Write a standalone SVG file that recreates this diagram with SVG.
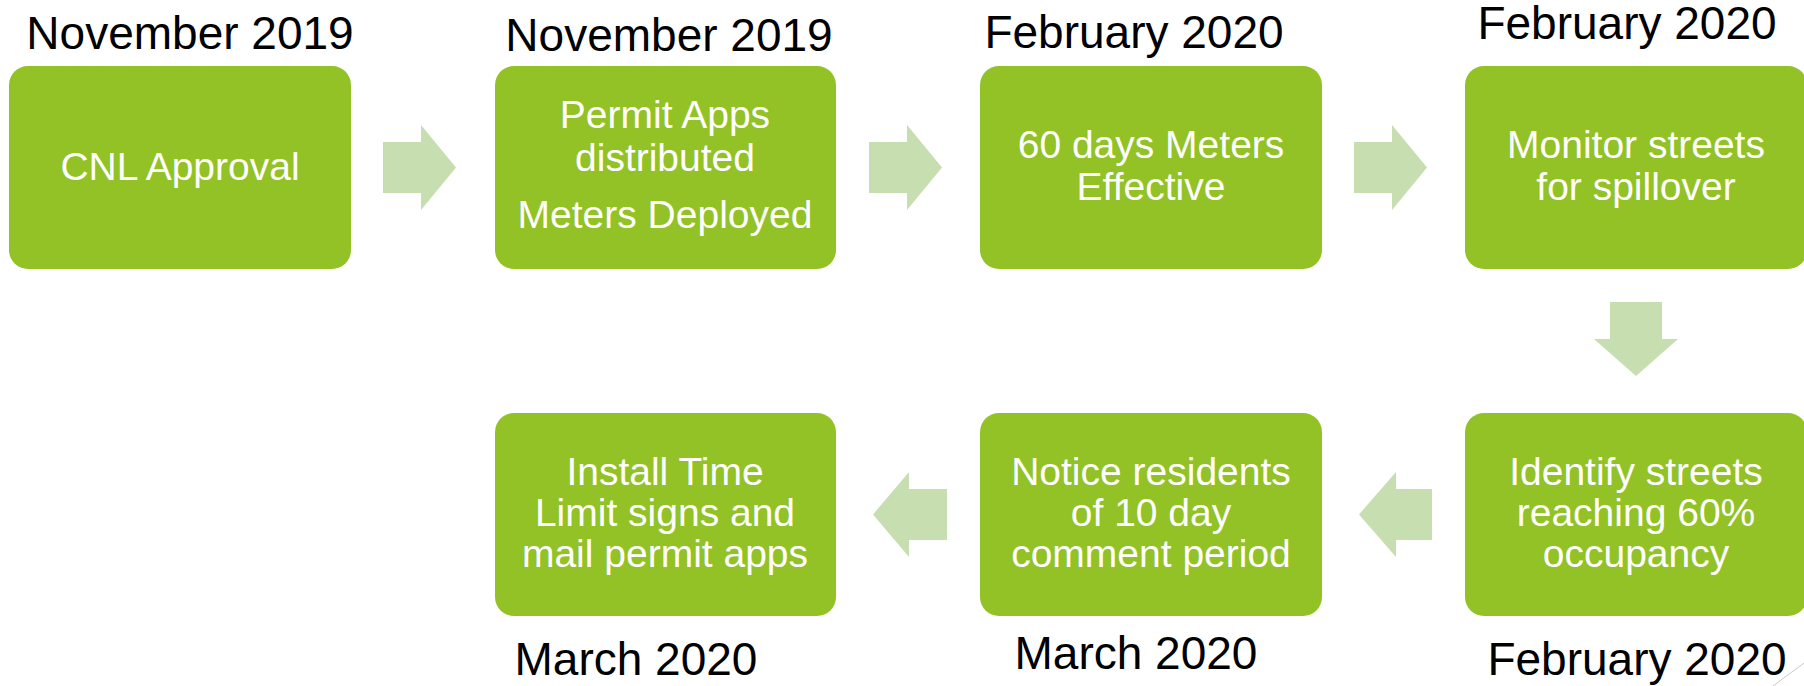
<svg xmlns="http://www.w3.org/2000/svg" width="1804" height="686" viewBox="0 0 1804 686">
<style>
.box{fill:#92C225;}
.arrow{fill:#C6DEB0;}
.lbl{font-family:"Liberation Sans",Arial,sans-serif;font-size:46px;fill:#000;text-anchor:middle;}
.txt{font-family:"Liberation Sans",Arial,sans-serif;font-size:39px;fill:#fff;text-anchor:middle;}
</style>
<rect width="1804" height="686" fill="#fff"/>
<g id="connectors">
<polygon class="arrow" points="383,142 421,142 421,125 456,167.5 421,210 421,193 383,193"/>
<polygon class="arrow" points="869,142 907,142 907,125 942,167.5 907,210 907,193 869,193"/>
<polygon class="arrow" points="1354,142 1392,142 1392,125 1427,167.5 1392,210 1392,193 1354,193"/>
<polygon class="arrow" points="1610,302 1662,302 1662,339 1678,339 1636,376 1594,339 1610,339"/>
<polygon class="arrow" points="1432,489 1396,489 1396,472 1359,514.5 1396,557 1396,540 1432,540"/>
<polygon class="arrow" points="947,489 909,489 909,472 873,514.5 909,557 909,540 947,540"/>
</g>
<g id="node1">
<text class="lbl" x="190" y="49">November 2019</text>
<rect class="box" x="9" y="66" width="342" height="203" rx="19"/>
<text class="txt" x="180" y="180">CNL Approval</text>
</g>
<g id="node2">
<text class="lbl" x="669" y="51">November 2019</text>
<rect class="box" x="495" y="66" width="341" height="203" rx="19"/>
<text class="txt" x="665" y="128">Permit Apps</text>
<text class="txt" x="665" y="171">distributed</text>
<text class="txt" x="665" y="228">Meters Deployed</text>
</g>
<g id="node3">
<text class="lbl" x="1134" y="48">February 2020</text>
<rect class="box" x="980" y="66" width="342" height="203" rx="19"/>
<text class="txt" x="1151" y="158">60 days Meters</text>
<text class="txt" x="1151" y="200">Effective</text>
</g>
<g id="node4">
<text class="lbl" x="1627" y="39">February 2020</text>
<rect class="box" x="1465" y="66" width="342" height="203" rx="19"/>
<text class="txt" x="1636" y="158">Monitor streets</text>
<text class="txt" x="1636" y="200">for spillover</text>
</g>
<g id="node5">
<rect class="box" x="1465" y="413" width="342" height="203" rx="19"/>
<text class="txt" x="1636" y="485">Identify streets</text>
<text class="txt" x="1636" y="526">reaching 60%</text>
<text class="txt" x="1636" y="567">occupancy</text>
<text class="lbl" x="1637" y="675">February 2020</text>
</g>
<g id="node6">
<rect class="box" x="980" y="413" width="342" height="203" rx="19"/>
<text class="txt" x="1151" y="485">Notice residents</text>
<text class="txt" x="1151" y="526">of 10 day</text>
<text class="txt" x="1151" y="567">comment period</text>
<text class="lbl" x="1136" y="669">March 2020</text>
</g>
<g id="node7">
<rect class="box" x="495" y="413" width="341" height="203" rx="19"/>
<text class="txt" x="665" y="485">Install Time</text>
<text class="txt" x="665" y="526">Limit signs and</text>
<text class="txt" x="665" y="567">mail permit apps</text>
<text class="lbl" x="636" y="675">March 2020</text>
</g>
<line x1="1773" y1="686" x2="1804" y2="663" stroke="#C8C8C8" stroke-width="1"/>
</svg>
